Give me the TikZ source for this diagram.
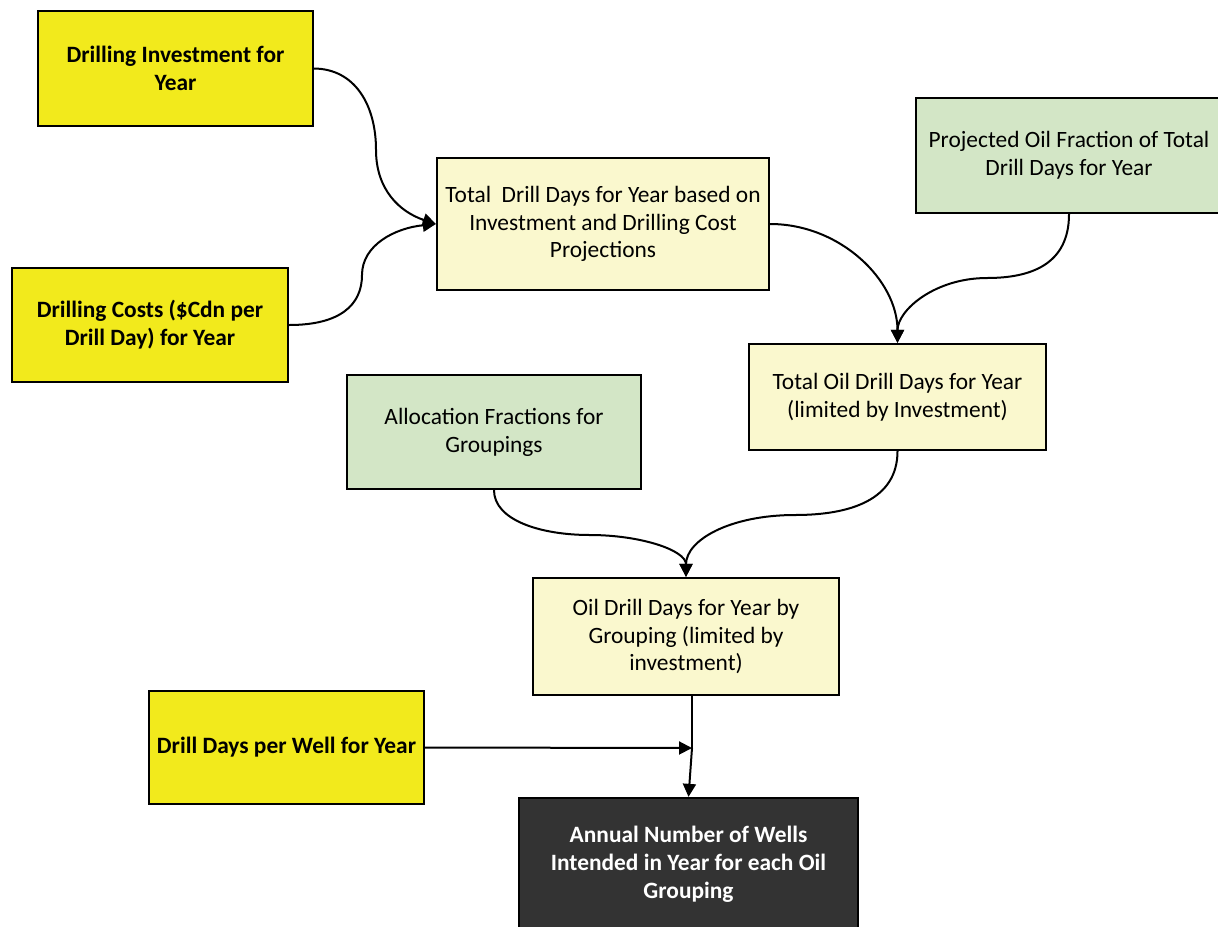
\documentclass[tikz,border=0pt]{standalone}
\usepackage{fontspec}
\setmainfont{Carlito}
\usetikzlibrary{arrows.meta}
\definecolor{inyellow}{HTML}{F2EA1C}
\definecolor{calcyellow}{HTML}{FAF8CE}
\definecolor{datagreen}{HTML}{D3E6C6}
\definecolor{outgrey}{HTML}{333333}

\begin{document}
\begin{tikzpicture}[x=0.5pt, y=-0.5pt, line width=1pt,
	box/.style={rectangle, draw=black, line width=1.15pt, align=center, inner sep=0pt, font=\fontsize{11.7}{13.9}\selectfont},
	inbox/.style={box, fill=inyellow, font=\bfseries\fontsize{11.7}{13.9}\selectfont},
	calcbox/.style={box, fill=calcyellow},
	databox/.style={box, fill=datagreen},
	outbox/.style={box, fill=outgrey, text=white, font=\bfseries\fontsize{11.7}{13.9}\selectfont},
	flow/.style={-{Triangle[length=6.5pt,width=6.5pt]}}]
		\useasboundingbox (0,0) rectangle (1218,926);
		
		\node[inbox, minimum width=137.5pt, minimum height=57.5pt] (inv) at (175.5,68.5) {Drilling Investment for\\Year};
		\node[inbox, minimum width=138pt, minimum height=57pt] (cost) at (150,325) {Drilling Costs (\$Cdn per\\Drill Day) for Year};
		\node[calcbox, minimum width=166pt, minimum height=66pt] (tdd) at (603,224) {Total\ \ Drill Days for Year based on\\Investment and Drilling Cost\\Projections};
		\node[databox, minimum width=153pt, minimum height=57.5pt] (proj) at (1069,155.5) {Projected Oil Fraction of Total\\Drill Days for Year};
		\node[calcbox, minimum width=148.5pt, minimum height=53pt] (toil) at (897.5,397) {Total Oil Drill Days for Year\\(limited by Investment)};
		\node[databox, minimum width=147pt, minimum height=57pt] (alloc) at (494,432) {Allocation Fractions for\\Groupings};
		\node[calcbox, minimum width=153pt, minimum height=58.5pt] (grp) at (686,636.5) {Oil Drill Days for Year by\\Grouping (limited by\\investment)};
		\node[inbox, minimum width=137.5pt, minimum height=56.5pt] (dpw) at (286.5,747.5) {Drill Days per Well for Year};
		\node[outbox, minimum width=169.5pt, minimum height=66pt] (wells) at (688.5,864) {Annual Number of Wells\\Intended in Year for each Oil\\Grouping};
		\coordinate (join) at (692,748);
		
		\draw[flow] (inv.east) .. controls (355,69) and (376,105) .. (376,150) .. controls (376,190) and (400,212) .. (tdd.west);
		\draw[flow] (cost.east) .. controls (340,325) and (362,305) .. (362,275) .. controls (362,245) and (395,228) .. (tdd.west);
		
		\draw[flow] (tdd.east) .. controls (840,224) and (897.5,280) .. (toil.north);
		\draw[flow] (proj.south) .. controls (1069,265) and (1030,278) .. (987,278) .. controls (935,278) and (897.5,310) .. (toil.north);
		
		\draw[flow] (toil.south) .. controls (897.5,500) and (850,515) .. (795,515) .. controls (730,515) and (686,540) .. (grp.north);
		\draw[flow] (alloc.south) .. controls (494,520) and (540,535) .. (590,535) .. controls (640,535) and (686,550) .. (grp.north);
		
		\draw (grp.south -| join) -- (join);
		\draw[flow] (join) -- (wells.north);
		\draw[flow] (dpw.east) -- (join);
	\end{tikzpicture}
\end{document}
